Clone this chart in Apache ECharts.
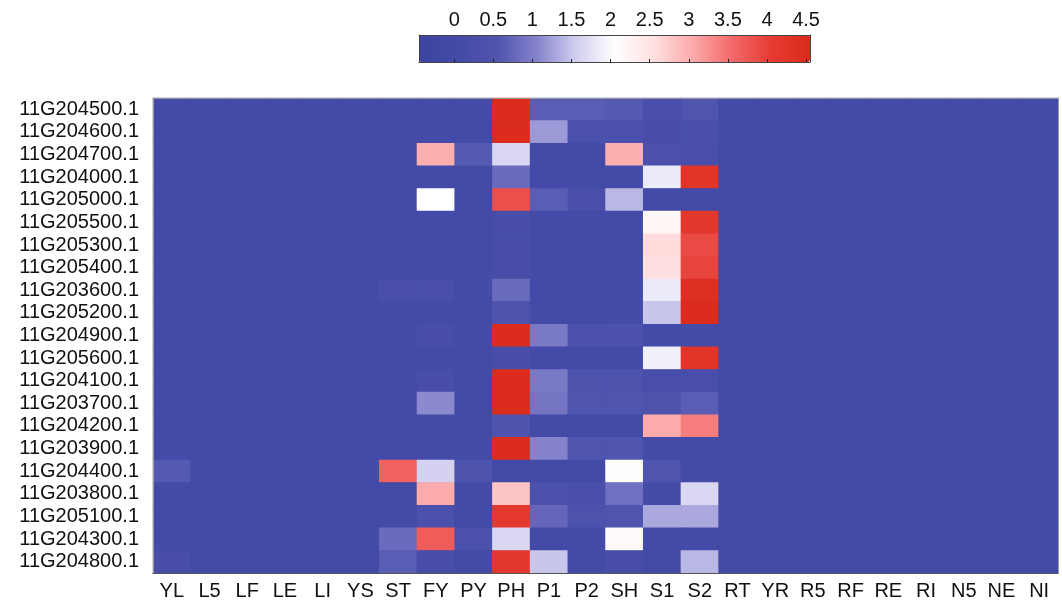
<!DOCTYPE html>
<html><head><meta charset="utf-8">
<script src="https://cdn.jsdelivr.net/npm/echarts@6/dist/echarts.min.js"></script>
<style>html,body{margin:0;padding:0;background:#fff}#c{width:1062px;height:604px}</style>
</head><body><div id="c"></div>
<script>
const cols = ['YL','L5','LF','LE','LI','YS','ST','FY','PY','PH','P1','P2','SH','S1','S2','RT','YR','R5','RF','RE','RI','N5','NE','NI'];
const genes = ['11G204500.1','11G204600.1','11G204700.1','11G204000.1','11G205000.1','11G205500.1','11G205300.1','11G205400.1','11G203600.1','11G205200.1','11G204900.1','11G205600.1','11G204100.1','11G203700.1','11G204200.1','11G203900.1','11G204400.1','11G203800.1','11G205100.1','11G204300.1','11G204800.1'];
// values per gene, columns in order of cols
const values = [
 [0.05,0.05,0.05,0.05,0.05,0.05,0.05,0.05,0.1,4.5,0.65,0.65,0.6,0.25,0.55,0.05,0.05,0.05,0.05,0.05,0.05,0.05,0.05,0.05],
 [0.05,0.05,0.05,0.05,0.05,0.05,0.05,0.05,0.05,4.5,1.2,0.35,0.35,0.2,0.3,0.05,0.05,0.05,0.05,0.05,0.05,0.05,0.05,0.05],
 [0.05,0.05,0.05,0.05,0.05,0.05,0.05,3.0,0.6,1.65,0.05,0.05,3.0,0.35,0.25,0.05,0.05,0.05,0.05,0.05,0.05,0.05,0.05,0.05],
 [0.05,0.05,0.05,0.05,0.05,0.05,0.05,0.05,0.05,0.8,0.05,0.05,0.05,1.85,4.25,0.05,0.05,0.05,0.05,0.05,0.05,0.05,0.05,0.05],
 [0.05,0.05,0.05,0.05,0.05,0.05,0.05,2.05,0.05,3.85,0.65,0.3,1.4,0.05,0.05,0.05,0.05,0.05,0.05,0.05,0.05,0.05,0.05,0.05],
 [0.05,0.05,0.05,0.05,0.05,0.05,0.05,0.05,0.05,0.2,0.05,0.05,0.05,2.2,4.2,0.05,0.05,0.05,0.05,0.05,0.05,0.05,0.05,0.05],
 [0.05,0.05,0.05,0.05,0.05,0.05,0.05,0.05,0.05,0.2,0.05,0.05,0.05,2.6,3.9,0.05,0.05,0.05,0.05,0.05,0.05,0.05,0.05,0.05],
 [0.05,0.05,0.05,0.05,0.05,0.05,0.05,0.05,0.05,0.2,0.05,0.05,0.05,2.55,3.95,0.05,0.05,0.05,0.05,0.05,0.05,0.05,0.05,0.05],
 [0.05,0.05,0.05,0.05,0.05,0.05,0.25,0.25,0.1,0.8,0.05,0.05,0.05,1.85,4.4,0.05,0.05,0.05,0.05,0.05,0.05,0.05,0.05,0.05],
 [0.05,0.05,0.05,0.05,0.05,0.05,0.05,0.05,0.05,0.45,0.05,0.05,0.15,1.5,4.5,0.05,0.05,0.05,0.05,0.05,0.05,0.05,0.05,0.05],
 [0.05,0.05,0.05,0.05,0.05,0.05,0.05,0.2,0.1,4.5,0.95,0.4,0.4,0.1,0.1,0.05,0.05,0.05,0.05,0.05,0.05,0.05,0.05,0.05],
 [0.05,0.05,0.05,0.05,0.05,0.05,0.05,0.05,0.05,0.2,0.05,0.05,0.05,1.9,4.25,0.05,0.05,0.05,0.05,0.05,0.05,0.05,0.05,0.05],
 [0.05,0.05,0.05,0.05,0.05,0.05,0.05,0.2,0.05,4.5,0.95,0.45,0.45,0.25,0.25,0.05,0.05,0.05,0.05,0.05,0.05,0.05,0.05,0.05],
 [0.05,0.05,0.05,0.05,0.05,0.05,0.05,1.1,0.05,4.5,0.9,0.55,0.55,0.45,0.65,0.05,0.05,0.05,0.05,0.05,0.05,0.05,0.05,0.05],
 [0.05,0.05,0.05,0.05,0.05,0.05,0.05,0.05,0.05,0.5,0.05,0.05,0.05,3.05,3.4,0.05,0.05,0.05,0.05,0.05,0.05,0.05,0.05,0.05],
 [0.05,0.05,0.05,0.05,0.05,0.05,0.05,0.05,0.15,4.5,1.05,0.55,0.55,0.05,0.05,0.05,0.05,0.05,0.05,0.05,0.05,0.05,0.05,0.05],
 [0.6,0.05,0.05,0.05,0.05,0.05,3.65,1.6,0.5,0.05,0.05,0.05,2.1,0.55,0.05,0.05,0.05,0.05,0.05,0.05,0.05,0.05,0.05,0.05],
 [0.05,0.05,0.05,0.05,0.05,0.05,0.05,3.05,0.05,2.8,0.4,0.3,0.85,0.1,1.65,0.05,0.05,0.05,0.05,0.05,0.05,0.05,0.05,0.05],
 [0.05,0.05,0.05,0.05,0.05,0.05,0.05,0.4,0.05,4.15,0.75,0.45,0.55,1.3,1.3,0.05,0.05,0.05,0.05,0.05,0.05,0.05,0.05,0.05],
 [0.05,0.05,0.05,0.05,0.05,0.05,0.8,3.7,0.35,1.65,0.05,0.05,2.15,0.05,0.05,0.05,0.05,0.05,0.05,0.05,0.05,0.05,0.05,0.05],
 [0.2,0.05,0.05,0.05,0.05,0.05,0.65,0.2,0.05,4.2,1.5,0.05,0.2,0.05,1.4,0.05,0.05,0.05,0.05,0.05,0.05,0.05,0.05,0.05]
];
const scaleTicks = [0,0.5,1,1.5,2,2.5,3,3.5,4,4.5];
const scaleMin = -0.45, scaleMax = 4.55;
const scaleColors = ['#3c44a2','#434aa7','#4f54ae','#8582cc','#cfcdee','#ffffff','#ffe0e0','#fcaaaa','#f46a6a','#e63c34','#da2a1c'];

const data = [];
values.forEach((row, r) => row.forEach((v, c) => data.push([c, r, v])));

const font = 'Liberation Sans, Arial, sans-serif';
const chart = echarts.init(document.getElementById('c'), null, {renderer: 'canvas'});
chart.setOption({
  animation: false,
  backgroundColor: '#fff',
  grid: [
    {left: 153, right: 4, top: 98, bottom: 31, show: true, backgroundColor: '#434aa7', borderWidth: 0},
    {left: 419, top: 35, width: 391, height: 27, z: 10}
  ],
  xAxis: [
    {gridIndex: 0, type: 'category', data: cols, position: 'bottom',
     axisLine: {onZero: false, lineStyle: {color: '#555', width: 1}},
     axisTick: {inside: true, alignWithLabel: true, length: 4, lineStyle: {color: '#222'}},
     axisLabel: {interval: 0, fontFamily: font, fontSize: 20, color: '#111', margin: 8},
     splitLine: {show: false}, z: 10},
    {gridIndex: 0, type: 'category', data: cols, position: 'top',
     axisLine: {onZero: false, lineStyle: {color: '#999', width: 1}},
     axisTick: {inside: true, alignWithLabel: true, length: 4, lineStyle: {color: '#222'}},
     axisLabel: {show: false}, splitLine: {show: false}, z: 10},
    {gridIndex: 1, type: 'value', min: scaleMin, max: scaleMax, position: 'top',
     axisLine: {show: true, onZero: false, lineStyle: {color: '#444'}},
     axisTick: {show: false},
     axisLabel: {customValues: scaleTicks, fontFamily: font, fontSize: 20, color: '#111', margin: 5,
       formatter: v => String(v)},
     splitLine: {show: false}, z: 10},
    {gridIndex: 1, type: 'value', min: scaleMin, max: scaleMax, position: 'bottom',
     axisLine: {show: true, onZero: false, lineStyle: {color: '#444'}},
     axisTick: {customValues: scaleTicks, inside: true, length: 3, lineStyle: {color: '#222'}},
     axisLabel: {show: false}, splitLine: {show: false}, z: 10}
  ],
  yAxis: [
    {gridIndex: 0, type: 'category', data: genes, inverse: true, position: 'left',
     axisLine: {onZero: false, lineStyle: {color: '#999', width: 1}},
     axisTick: {inside: true, alignWithLabel: true, length: 4, interval: 0, lineStyle: {color: '#222'}},
     axisLabel: {interval: 0, fontFamily: font, fontSize: 20, color: '#111', margin: 14},
     splitLine: {show: false}, z: 10},
    {gridIndex: 0, type: 'category', data: genes, inverse: true, position: 'right',
     axisLine: {onZero: false, lineStyle: {color: '#999', width: 1}},
     axisTick: {inside: true, alignWithLabel: true, length: 4, interval: 0, lineStyle: {color: '#222'}},
     axisLabel: {show: false}, splitLine: {show: false}, z: 10},
    {gridIndex: 1, type: 'value', min: 0, max: 1, position: 'left',
     axisLine: {show: true, onZero: false, lineStyle: {color: '#444'}}, axisTick: {show: false},
     axisLabel: {show: false}, splitLine: {show: false}, z: 10},
    {gridIndex: 1, type: 'value', min: 0, max: 1, position: 'right',
     axisLine: {show: true, onZero: false, lineStyle: {color: '#444'}}, axisTick: {show: false},
     axisLabel: {show: false}, splitLine: {show: false}, z: 10}
  ],
  visualMap: {
    type: 'continuous', min: scaleMin, max: scaleMax, orient: 'horizontal',
    left: 419, top: 35, itemWidth: 27, itemHeight: 391, padding: 0,
    calculable: false, text: null, showLabel: false, seriesIndex: 0,
    inRange: {color: scaleColors}
  },
  series: [{
    type: 'heatmap', xAxisIndex: 0, yAxisIndex: 0, data: data,
    itemStyle: {borderWidth: 0}, emphasis: {disabled: true}, progressive: 0
  }]
});
</script></body></html>
